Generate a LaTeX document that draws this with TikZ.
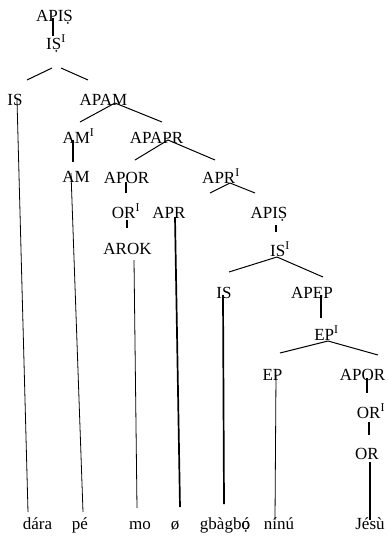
\documentclass[tikz,border=0pt]{standalone}
\usepackage{fontspec}
\setmainfont{Liberation Serif}
\usetikzlibrary{calc}

\begin{document}
\begin{tikzpicture}[
  x=1pt, y=-1pt,
  font=\fontsize{17}{20}\selectfont,
  lb/.style={inner sep=0pt, anchor=base},
  br/.style={line width=1pt},
  tk/.style={line width=1.7pt},
  tn/.style={line width=0.8pt}
]
\useasboundingbox (0,0) rectangle (388,547);

% ================= upper tree =================
\node[lb] (ap1)   at ( 54.5, 21) {APIṢ};
\node[lb] (is1)   at ( 56.0, 49) {IṢ\textsuperscript{I}};
\node[lb] (isL)   at ( 15.0,105) {IS};
\node[lb] (apam)  at (103.5,105) {APAM};
\node[lb] (ami)   at ( 78.5,143) {AM\textsuperscript{I}};
\node[lb] (apapr) at (156.5,143) {APAPR};
\node[lb] (am)    at ( 76.0,182) {AM};
\node[lb] (apor)  at (126.5,183) {APOR};
\node[lb] (apri)  at (221.0,183) {APR\textsuperscript{I}};

% ================= middle tree =================
\node[lb] (ori)   at (126.0,218) {OR\textsuperscript{I}};
\node[lb] (apr)   at (169.0,218) {APR};
\node[lb] (ap2)   at (269.0,218) {APIṢ};
\node[lb] (arok)  at (127.5,254) {AROK};
\node[lb] (isi)   at (280.0,256) {IS\textsuperscript{I}};
\node[lb] (is2)   at (224.0,298) {IS};
\node[lb] (apep)  at (312.0,298) {APEP};
\node[lb] (epi)   at (326.5,340) {EP\textsuperscript{I}};
\node[lb] (ep)    at (272.5,380) {EP};
\node[lb] (apor2) at (362.5,380) {APOR};
\node[lb] (ori2)  at (371.0,418) {OR\textsuperscript{I}};
\node[lb] (or)    at (367.0,459) {OR};

% ================= words =================
\node[lb] (dara)  at ( 37.5,529) {dára};
\node[lb] (pe)    at ( 80.0,529) {pé};
\node[lb] (mo)    at (140.0,529) {mo};
\node[lb] (nul)   at (175.0,529) {ø};
\node[lb] (gbagbo) at (225.0,529) {gbàgb{\ooalign{ó\cr ọ}}};
\node[lb] (ninu)  at (279.0,529) {nínú};
\node[lb] (jesu)  at (370.0,529) {Jésù};

% ================= branches =================
\draw[tk] ($(ap1.base)+(-1.5,-3)$) -- ($(is1.base)+(-3,-13)$);
\draw[br] ($(is1.base)+(-4,19)$) -- ($(isL.base)+(12,-25)$);
\draw[br] ($(is1.base)+(5,19)$)  -- ($(apam.base)+(-15.5,-25)$);
\draw[br] ($(apam.base)+(11.5,-2)$) -- ($(ami.base)+(1.5,-21)$);
\draw[br] ($(apam.base)+(11.5,-2)$) -- ($(apapr.base)+(5.5,-21)$);
\draw[tk] ($(ami.base)+(-5.5,-3)$) -- ($(am.base)+(-3,-20)$);
\draw[br] ($(apapr.base)+(11.5,-3)$) -- ($(apor.base)+(8.5,-23)$);
\draw[br] ($(apapr.base)+(11.5,-3)$) -- ($(apri.base)+(-6,-23)$);
\draw[tk] ($(apor.base)+(-0.5,-1)$) -- ($(ori.base)+(0,-25)$);
\draw[br] ($(apri.base)+(9,0)$) -- ($(apr.base)+(41,-25)$);
\draw[br] ($(apri.base)+(9,0)$) -- ($(ap2.base)+(-14,-25)$);
\draw[tk] ($(ori.base)+(1,2)$) -- ($(arok.base)+(-0.5,-26)$);
\draw[tk] ($(ap2.base)+(7,7)$) -- ($(isi.base)+(-4,-24)$);
\draw[br] ($(isi.base)+(-3,1)$) -- ($(is2.base)+(5,-26)$);
\draw[br] ($(isi.base)+(-3,1)$) -- ($(apep.base)+(11,-21)$);
\draw[tk] ($(apep.base)+(9,-3)$) -- ($(epi.base)+(-5.5,-22)$);
\draw[br] ($(epi.base)+(1.5,1)$) -- ($(ep.base)+(7.5,-27)$);
\draw[br] ($(epi.base)+(1.5,1)$) -- ($(apor2.base)+(15.5,-25)$);
\draw[tk] ($(apor2.base)+(4.5,-2)$) -- ($(ori2.base)+(-4,-25)$);
\draw[tk] ($(ori2.base)+(-2,4)$) -- ($(or.base)+(2,-24)$);

% ================= leaves down to words =================
\draw[tn] ($(isL.base)+(2,-5)$) -- ($(dara.base)+(-9.5,-17)$);
\draw[tn] ($(am.base)+(-5,-9)$) -- ($(pe.base)+(3,-17)$);
\draw[tn] ($(arok.base)+(6.5,6)$) -- ($(mo.base)+(-3,-21)$);
\draw[tk] ($(apr.base)+(6,-1)$) -- ($(nul.base)+(5,-22)$);
\draw[tk] ($(is2.base)+(-1,-3)$) -- ($(gbagbo.base)+(-1,-25)$);
\draw[tn] ($(ep.base)+(3.5,-5)$) -- ($(ninu.base)+(-4,-9)$);
\draw[tk] ($(or.base)+(3,3)$) -- ($(jesu.base)+(0,-9)$);
\end{tikzpicture}
\end{document}
